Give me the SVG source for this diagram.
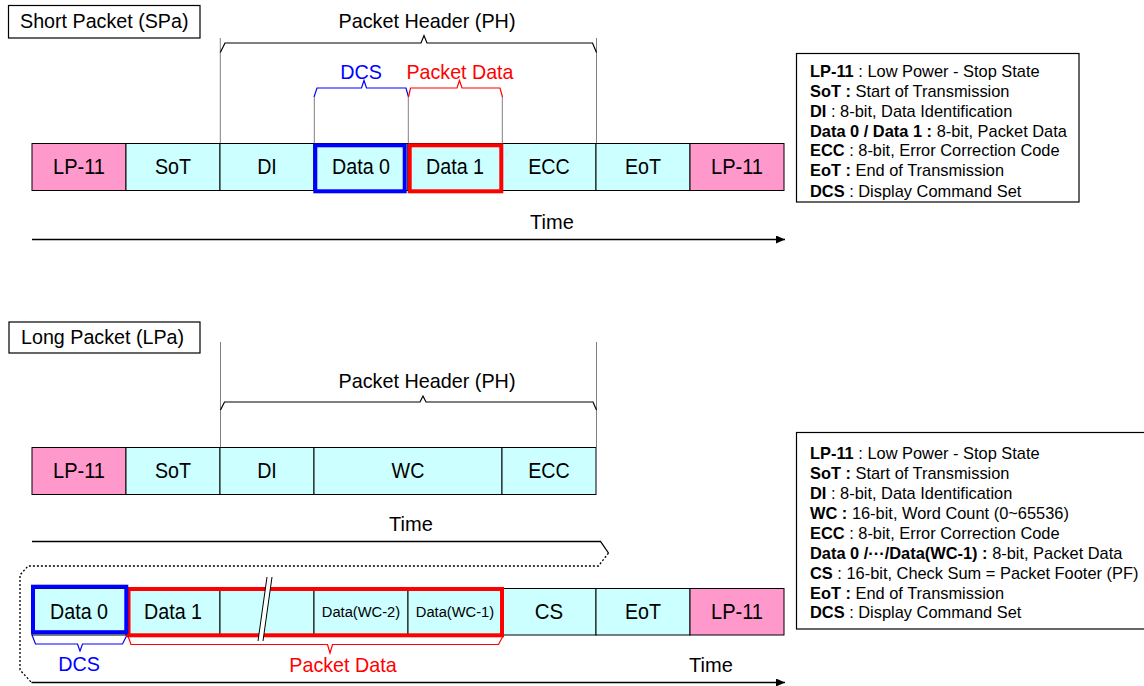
<svg xmlns="http://www.w3.org/2000/svg" width="1144" height="686" viewBox="0 0 1144 686">
<style>
text{font-family:"Liberation Sans",Arial,sans-serif;fill:#000}
.lbl{font-size:22px;text-anchor:middle}
.mid{font-size:21px;text-anchor:middle}
.sm{font-size:15.5px;text-anchor:middle}
.lp{fill:#FF99CC;stroke:#000;stroke-width:1}
.cy{fill:#CCFFFF;stroke:#000;stroke-width:1}
.box{fill:#fff;stroke:#000;stroke-width:1.2}
.leg{font-size:16.4px}
.b{font-weight:bold}
.gl{stroke:#808080;stroke-width:1;fill:none}
.br{fill:none;stroke:#000;stroke-width:1.2}
.brb{fill:none;stroke:#0000FF;stroke-width:1.2}
.brr{fill:none;stroke:#FF0000;stroke-width:1.2}
.hb{fill:none;stroke:#0000FF;stroke-width:4}
.hr{fill:none;stroke:#FF0000;stroke-width:4}
.ax{fill:none;stroke:#000;stroke-width:1.3}
.dot{fill:none;stroke:#000;stroke-width:1.3;stroke-dasharray:2 2}
.blue{fill:#0000FF}
.red{fill:#FF0000}
</style>
<defs>
<marker id="ah" markerWidth="10" markerHeight="10" refX="9" refY="4" orient="auto" markerUnits="userSpaceOnUse"><path d="M0,0 L9,4 L0,8 z" fill="#000"/></marker>
</defs>

<!-- Titles -->
<g id="title-short">
<rect class="box" x="8.5" y="5.5" width="191.5" height="32.5"/>
<text x="20" y="27.5" style="font-size:19.7px">Short Packet (SPa)</text>
</g>
<g id="title-long">
<rect class="box" x="9" y="322" width="191" height="31"/>
<text x="21" y="344" style="font-size:19.7px">Long Packet (LPa)</text>
</g>

<!-- Annotations / connectors -->
<g id="connectors">
<!-- short packet guides -->
<path class="gl" d="M220.3 38V143 M596.5 38V143 M314.3 97V143 M408.3 97V143 M502.3 97V143"/>
<path class="br" d="M220.3 52.5 L225 43 H421 L424 35.5 L427 43 H592.5 L596.5 52.5"/>
<text class="mid" x="427" y="28.3" textLength="177" lengthAdjust="spacingAndGlyphs">Packet Header (PH)</text>
<path class="brb" d="M314 97 L317 88 H361.5 L364 80.5 L366.5 88 H406 L408.5 97"/>
<text class="mid blue" x="361" y="79" textLength="41.7" lengthAdjust="spacingAndGlyphs">DCS</text>
<path class="brr" d="M408.5 97 L410.5 88 H457 L459.5 80.5 L462 88 H500 L502.5 97"/>
<text class="mid red" x="460" y="79" textLength="107" lengthAdjust="spacingAndGlyphs">Packet Data</text>
<path class="ax" d="M32 239.5 H785" marker-end="url(#ah)"/>
<text class="mid" x="552" y="228.5" textLength="43.8" lengthAdjust="spacingAndGlyphs">Time</text>

<!-- long packet guides -->
<path class="gl" d="M220.5 342V447 M596.5 342V447"/>
<path class="br" d="M220.5 410 L224.5 402 H420 L423 396 L426 402 H593 L596.5 410"/>
<text class="mid" x="427" y="388" textLength="177" lengthAdjust="spacingAndGlyphs">Packet Header (PH)</text>
<text class="mid" x="411" y="530.5" textLength="43.8" lengthAdjust="spacingAndGlyphs">Time</text>
<path class="ax" d="M32 541.5 H600.5 L608.5 553"/>
<path class="dot" d="M608.5 553 L598.5 566 H28 L20 575 V670 L31.5 682.5"/>
<path class="ax" d="M31.5 682.5 H785" marker-end="url(#ah)"/>
<path class="brb" d="M32 635 L35.5 644 H77.5 L80 651 L82.5 644 H122.5 L127 635"/>
<text class="mid blue" x="79" y="671" textLength="41.7" lengthAdjust="spacingAndGlyphs">DCS</text>
<path class="brr" d="M128 636 L131 644.5 H327.5 L330 653 L332.5 644.5 H498.5 L503 636"/>
<text class="mid red" x="343" y="671.5" textLength="107.5" lengthAdjust="spacingAndGlyphs">Packet Data</text>
<text class="mid" x="711" y="671.5" textLength="43.8" lengthAdjust="spacingAndGlyphs">Time</text>
</g>

<!-- Short packet row -->
<g id="sp-lp11a"><rect class="lp" x="32" y="143.5" width="94" height="47"/><text class="lbl" x="79" y="173.5" textLength="52" lengthAdjust="spacingAndGlyphs">LP-11</text></g>
<g id="sp-sot"><rect class="cy" x="126" y="143.5" width="94" height="47"/><text class="lbl" x="173" y="173.5" textLength="36" lengthAdjust="spacingAndGlyphs">SoT</text></g>
<g id="sp-di"><rect class="cy" x="220" y="143.5" width="94" height="47"/><text class="lbl" x="267" y="173.5" textLength="19.7" lengthAdjust="spacingAndGlyphs">DI</text></g>
<g id="sp-data0"><rect class="cy" x="314" y="143.5" width="94" height="47"/><text class="lbl" x="361" y="173.5" textLength="58" lengthAdjust="spacingAndGlyphs">Data 0</text></g>
<g id="sp-data1"><rect class="cy" x="408" y="143.5" width="94" height="47"/><text class="lbl" x="455" y="173.5" textLength="58" lengthAdjust="spacingAndGlyphs">Data 1</text></g>
<g id="sp-ecc"><rect class="cy" x="502" y="143.5" width="94" height="47"/><text class="lbl" x="549" y="173.5" textLength="41.6" lengthAdjust="spacingAndGlyphs">ECC</text></g>
<g id="sp-eot"><rect class="cy" x="596" y="143.5" width="94" height="47"/><text class="lbl" x="643" y="173.5" textLength="36" lengthAdjust="spacingAndGlyphs">EoT</text></g>
<g id="sp-lp11b"><rect class="lp" x="690" y="143.5" width="94" height="47"/><text class="lbl" x="737" y="173.5" textLength="52" lengthAdjust="spacingAndGlyphs">LP-11</text></g>
<g id="sp-hl-pd"><rect class="hr" x="409.7" y="145.3" width="91.6" height="46"/></g>
<g id="sp-hl-dcs"><rect class="hb" x="315.3" y="145.3" width="89.4" height="46"/></g>

<!-- Long packet header row -->
<g id="lp-lp11"><rect class="lp" x="32" y="447.5" width="94" height="47"/><text class="lbl" x="79" y="477.5" textLength="52" lengthAdjust="spacingAndGlyphs">LP-11</text></g>
<g id="lp-sot"><rect class="cy" x="126" y="447.5" width="94" height="47"/><text class="lbl" x="173" y="477.5" textLength="36" lengthAdjust="spacingAndGlyphs">SoT</text></g>
<g id="lp-di"><rect class="cy" x="220" y="447.5" width="94" height="47"/><text class="lbl" x="267" y="477.5" textLength="19.7" lengthAdjust="spacingAndGlyphs">DI</text></g>
<g id="lp-wc"><rect class="cy" x="314" y="447.5" width="188" height="47"/><text class="lbl" x="408" y="477.5" textLength="32.8" lengthAdjust="spacingAndGlyphs">WC</text></g>
<g id="lp-ecc"><rect class="cy" x="502" y="447.5" width="94" height="47"/><text class="lbl" x="549" y="477.5" textLength="41.6" lengthAdjust="spacingAndGlyphs">ECC</text></g>

<!-- Long packet payload row -->
<g id="lp-data0"><rect class="cy" x="32" y="588.5" width="94" height="46.5"/><text class="lbl" x="79" y="618.5" textLength="58" lengthAdjust="spacingAndGlyphs">Data 0</text></g>
<g id="lp-data1"><rect class="cy" x="126" y="588.5" width="94" height="46.5"/><text class="lbl" x="173" y="618.5" textLength="58" lengthAdjust="spacingAndGlyphs">Data 1</text></g>
<g id="lp-gap"><rect class="cy" x="220" y="588.5" width="94" height="46.5"/></g>
<g id="lp-datawc2"><rect class="cy" x="314" y="588.5" width="94" height="46.5"/><text class="sm" x="361" y="616.5" textLength="78.4" lengthAdjust="spacingAndGlyphs">Data(WC-2)</text></g>
<g id="lp-datawc1"><rect class="cy" x="408" y="588.5" width="94" height="46.5"/><text class="sm" x="455" y="616.5" textLength="78.4" lengthAdjust="spacingAndGlyphs">Data(WC-1)</text></g>
<g id="lp-cs"><rect class="cy" x="502" y="588.5" width="94" height="46.5"/><text class="lbl" x="549" y="618.5" textLength="28.4" lengthAdjust="spacingAndGlyphs">CS</text></g>
<g id="lp-eot"><rect class="cy" x="596" y="588.5" width="94" height="46.5"/><text class="lbl" x="643" y="618.5" textLength="36" lengthAdjust="spacingAndGlyphs">EoT</text></g>
<g id="lp-lp11b"><rect class="lp" x="690" y="588.5" width="94" height="46.5"/><text class="lbl" x="737" y="618.5" textLength="52" lengthAdjust="spacingAndGlyphs">LP-11</text></g>
<g id="lp-hl-pd"><rect class="hr" x="128.5" y="589" width="373.5" height="46.3"/></g>
<g id="lp-hl-dcs"><rect class="hb" x="33" y="586.7" width="93.3" height="45.5"/></g>
<g id="lp-break">
<polygon points="267,577 272,577 263,641 258,641" fill="#fff"/>
<path d="M267 577 L258 641 M272 577 L263 641" stroke="#000" stroke-width="1" fill="none"/>
</g>

<!-- Legends -->
<g id="legend-short">
<rect class="box" x="796.5" y="53.5" width="282.5" height="148.5"/>
<text class="leg" x="810" y="76.5"><tspan class="b">LP-11</tspan> : Low Power - Stop State</text>
<text class="leg" x="810" y="96.5"><tspan class="b">SoT :</tspan> Start of Transmission</text>
<text class="leg" x="810" y="116.5"><tspan class="b">DI</tspan> : 8-bit, Data Identification</text>
<text class="leg" x="810" y="136.5"><tspan class="b">Data 0 / Data 1 :</tspan> 8-bit, Packet Data</text>
<text class="leg" x="810" y="156"><tspan class="b">ECC</tspan> : 8-bit, Error Correction Code</text>
<text class="leg" x="810" y="175.5"><tspan class="b">EoT :</tspan> End of Transmission</text>
<text class="leg" x="810" y="197"><tspan class="b">DCS</tspan> : Display Command Set</text>
</g>
<g id="legend-long">
<rect class="box" x="796.5" y="432.5" width="352" height="196.5"/>
<text class="leg" x="810" y="459"><tspan class="b">LP-11</tspan> : Low Power - Stop State</text>
<text class="leg" x="810" y="479"><tspan class="b">SoT :</tspan> Start of Transmission</text>
<text class="leg" x="810" y="499"><tspan class="b">DI</tspan> : 8-bit, Data Identification</text>
<text class="leg" x="810" y="518.5"><tspan class="b">WC :</tspan> 16-bit, Word Count (0~65536)</text>
<text class="leg" x="810" y="538.5"><tspan class="b">ECC</tspan> : 8-bit, Error Correction Code</text>
<text class="leg" x="810" y="558.5"><tspan class="b">Data 0 /···/Data(WC-1) :</tspan> 8-bit, Packet Data</text>
<text class="leg" x="810" y="578.5"><tspan class="b">CS</tspan> : 16-bit, Check Sum = Packet Footer (PF)</text>
<text class="leg" x="810" y="598.5"><tspan class="b">EoT :</tspan> End of Transmission</text>
<text class="leg" x="810" y="618"><tspan class="b">DCS</tspan> : Display Command Set</text>
</g>
</svg>
